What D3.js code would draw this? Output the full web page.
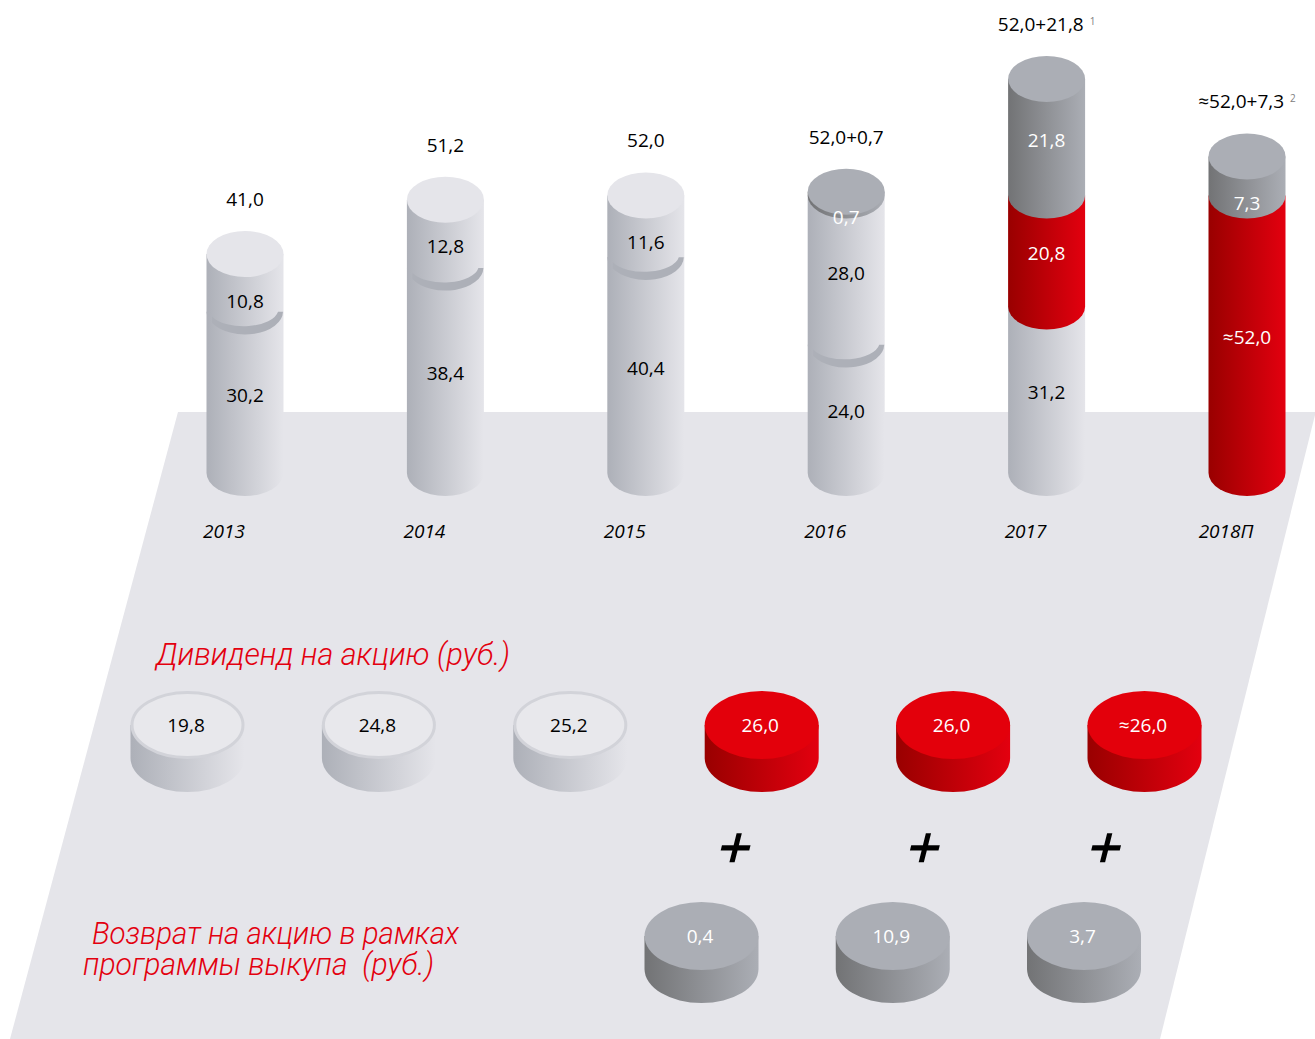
<!DOCTYPE html>
<html>
<head>
<meta charset="utf-8">
<script src="https://cdn.jsdelivr.net/npm/d3@7"></script>
<style>
  body { margin: 0; background: #fff; }
  svg { display: block; }
  text { font-family: "Open Sans", sans-serif; }
</style>
</head>
<body>
<div id="chart"></div>
<script>
const years = ["2013", "2014", "2015", "2016", "2017", "2018П"];
const lowerValues = [30.2, 38.4, 40.4, 24.0, 31.2, 52.0];
const upperValues = [10.8, 12.8, 11.6, 28.0, 20.8, 0];
const buybackValues = [0, 0, 0, 0.7, 21.8, 7.3];
const footnotes = ["", "", "", "", "1", "2"];

const dividendLabels = ["19,8", "24,8", "25,2", "26,0", "26,0", "≈26,0"];
const dividendYears = ["2013", "2014", "2015", "2016", "2017", "2018П"];
const returnLabels = ["0,4", "10,9", "3,7"];
const returnYears = ["2016", "2017", "2018П"];

const width = 1315, height = 1039;
const fmt = d3.formatLocale({decimal: ",", thousands: " ", grouping: [3], currency: ["", ""]}).format(".1f");

const svg = d3.select("#chart").append("svg")
  .attr("width", width)
  .attr("height", height);

// gradients, left side dark to right side light
const defs = svg.append("defs");
const colors = {
  light: {from: "#adb0b8", to: "#e5e5ea", top: "#e5e5ea", text: "#000"},
  red: {from: "#990000", to: "#e3000f", top: "#e3000b", text: "#fff"},
  grey: {from: "#727375", to: "#abaeb5", top: "#abaeb5", text: "#fff"}
};
Object.keys(colors).forEach(function(k) {
  const g = defs.append("linearGradient").attr("id", "grad-" + k);
  g.append("stop").attr("offset", "0%").attr("stop-color", colors[k].from);
  g.append("stop").attr("offset", "100%").attr("stop-color", colors[k].to);
});

// floor
svg.append("polygon")
  .attr("points", "178,412 1315,412 1315,415 1160,1039 10,1039")
  .attr("fill", "#e5e5ea");

const x = d3.scalePoint().domain(years).range([245, 1247]);
const y = d3.scaleLinear().domain([0, 73.8]).range([473, 79]);

const r = 38.5, ry = 23;

// flat on top: the next part or the cap always covers that edge
function side(cx, yTop, yBottom, rx, ryy) {
  return "M" + (cx - rx) + "," + yTop +
    "L" + (cx - rx) + "," + yBottom +
    "A" + rx + "," + ryy + " 0 0 0 " + (cx + rx) + "," + yBottom +
    "L" + (cx + rx) + "," + yTop + "Z";
}

function seam(cx, yy) {
  return "M" + (cx + 38) + "," + yy +
    "A38,23 0 0 1 " + (cx - 33) + "," + (yy + 11) +
    "L" + (cx - 33) + "," + (yy + 5) +
    "A35,17 0 0 0 " + (cx + 33) + "," + yy + "Z";
}

const valueFont = 19;

years.forEach(function(year, i) {
  const cx = x(year);
  const lower = lowerValues[i], upper = upperValues[i], buyback = buybackValues[i];
  const dividend = lower + upper;
  const total = dividend + buyback;
  const approx = year === "2018П" ? "≈" : "";

  // which part is red: 2017 upper part, 2018 lower part
  const lowerKind = year === "2018П" ? "red" : "light";
  const upperKind = year === "2017" ? "red" : "light";

  const parts = [
    {from: 0, to: lower, kind: lowerKind, label: approx + fmt(lower)},
    {from: lower, to: dividend, kind: upperKind, label: fmt(upper)},
    {from: dividend, to: total, kind: "grey", label: fmt(buyback)}
  ].filter(function(d) { return d.to > d.from; });

  const g = svg.append("g");

  g.selectAll("path.part")
    .data(parts)
    .enter()
    .append("path")
    .attr("class", "part")
    .attr("d", function(d) { return side(cx, y(d.to), y(d.from), r, ry); })
    .attr("fill", function(d) { return "url(#grad-" + d.kind + ")"; });

  if (lowerKind === "light" && upperKind === "light") {
    g.append("path")
      .attr("d", seam(cx, y(lower)))
      .attr("fill", "#adb0b8");
  }

  const topKind = parts[parts.length - 1].kind;
  g.append("ellipse")
    .attr("cx", cx)
    .attr("cy", y(total))
    .attr("rx", r)
    .attr("ry", ry)
    .attr("fill", colors[topKind].top);

  g.selectAll("text.value")
    .data(parts)
    .enter()
    .append("text")
    .attr("class", "value")
    .attr("x", cx)
    .attr("y", function(d, j) {
      const top = y(d.to), mid = (y(d.to) + y(d.from)) / 2;
      if (y(d.from) - top < 10) return top + 25 + 7;
      const last = j === parts.length - 1;
      return (last ? Math.max(mid, top + 44) : mid) + 9.5;
    })
    .attr("text-anchor", "middle")
    .attr("font-size", valueFont)
    .attr("fill", function(d) { return colors[d.kind].text; })
    .text(function(d) { return d.label; });

  // total above the column
  const t = g.append("text")
    .attr("x", cx)
    .attr("y", y(total) - 48)
    .attr("text-anchor", "middle")
    .attr("font-size", valueFont)
    .attr("fill", "#000");
  t.append("tspan").text(approx + fmt(dividend) + (buyback > 0 ? "+" + fmt(buyback) : ""));
  if (footnotes[i]) {
    t.append("tspan")
      .attr("dx", 6)
      .attr("dy", -6)
      .attr("font-size", 10)
      .attr("fill", "#808080")
      .text(footnotes[i]);
  }

  g.append("text")
    .attr("x", cx - 21)
    .attr("y", 538)
    .attr("text-anchor", "middle")
    .attr("font-size", valueFont)
    .attr("font-style", "italic")
    .attr("fill", "#000")
    .text(year);
});

// discs
function disc(cx, cy, kind, label) {
  const rx = 57, ryy = 34, depth = 33;
  const g = svg.append("g");
  g.append("path")
    .attr("d", side(cx, cy, cy + depth, rx, ryy))
    .attr("fill", "url(#grad-" + kind + ")");
  if (kind === "light") {
    g.append("ellipse")
      .attr("cx", cx).attr("cy", cy)
      .attr("rx", rx - 1.5).attr("ry", ryy - 1.5)
      .attr("fill", "#e8e8ec")
      .attr("stroke", "#d2d3d9")
      .attr("stroke-width", 3);
  } else {
    g.append("ellipse")
      .attr("cx", cx).attr("cy", cy)
      .attr("rx", rx).attr("ry", ryy)
      .attr("fill", colors[kind].top);
  }
  g.append("text")
    .attr("x", cx - 1.5)
    .attr("y", cy + 7)
    .attr("text-anchor", "middle")
    .attr("font-size", valueFont)
    .attr("fill", colors[kind].text)
    .text(label);
}

const xDividend = d3.scalePoint().domain(dividendYears).range([187.5, 1144.5]);
const xReturn = d3.scalePoint().domain(returnYears).range([701.5, 1084]);
const plusShift = [29, 27, 17];

dividendYears.forEach(function(year, i) {
  disc(xDividend(year), 725, returnYears.indexOf(year) >= 0 ? "red" : "light", dividendLabels[i]);
});
returnYears.forEach(function(year, i) {
  disc(xReturn(year), 936, "grey", returnLabels[i]);
  svg.append("text")
    .attr("transform", "translate(" + (xReturn(year) + plusShift[i]) + ",869) skewX(-14)")
    .attr("text-anchor", "middle")
    .attr("font-size", 60)
    .attr("font-weight", 600)
    .attr("fill", "#000")
    .text("+");
});

// titles
const titles = [
  {text: "Дивиденд на акцию (руб.)", x: 156, y: 665, len: 354},
  {text: "Возврат на акцию в рамках", x: 92, y: 944, len: 367},
  {text: "программы выкупа  (руб.)", x: 83, y: 975, len: 351}
];
svg.selectAll("text.title")
  .data(titles)
  .enter()
  .append("text")
  .attr("class", "title")
  .attr("x", function(d) { return d.x; })
  .attr("y", function(d) { return d.y; })
  .attr("textLength", function(d) { return d.len; })
  .attr("lengthAdjust", "spacingAndGlyphs")
  .style("font-family", "Roboto, sans-serif")
  .style("white-space", "pre")
  .attr("font-size", 32)
  .attr("font-style", "italic")
  .attr("font-weight", 300)
  .attr("fill", "#e3000f")
  .text(function(d) { return d.text; });
</script>
</body>
</html>
